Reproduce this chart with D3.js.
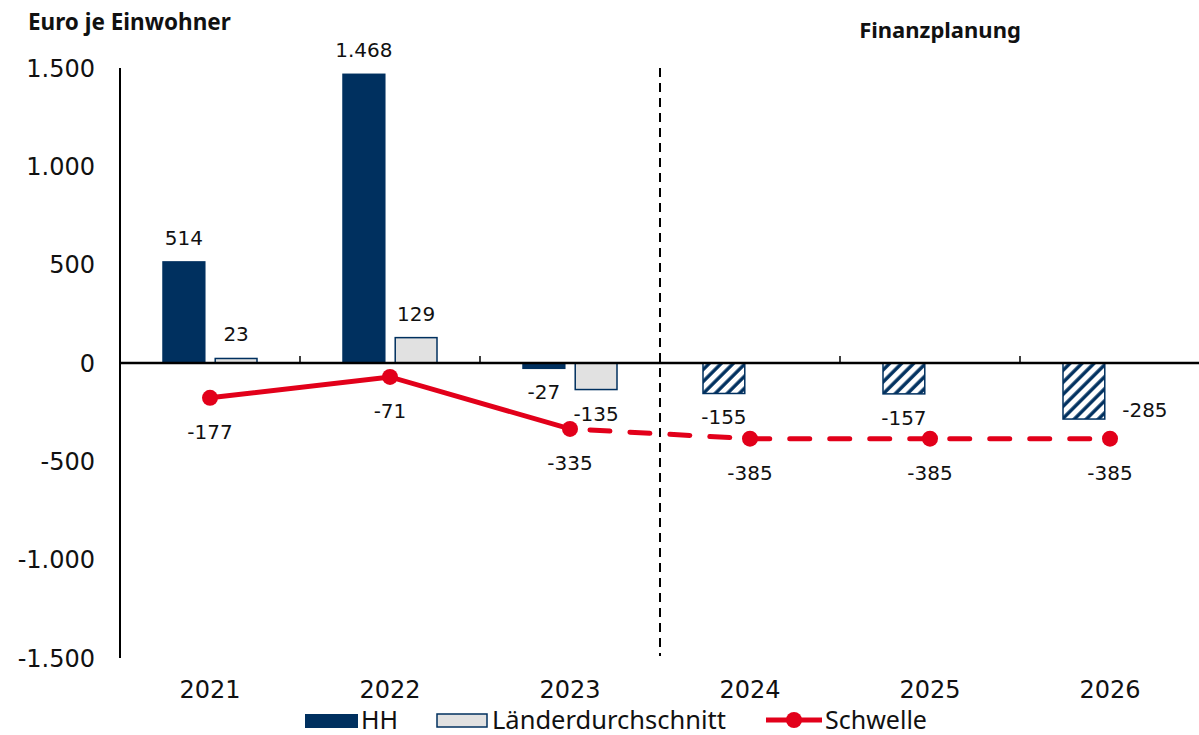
<!DOCTYPE html>
<html lang="de">
<head>
<meta charset="utf-8">
<title>Euro je Einwohner</title>
<script src="https://cdn.jsdelivr.net/npm/d3@7"></script>
<style>
  body { margin: 0; background: #fff; }
  svg text { font-family: "Noto Sans", sans-serif; fill: #111; }
  svg text.num { font-family: "DejaVu Sans", sans-serif; }
</style>
</head>
<body>
<svg id="chart" width="1199" height="735"></svg>
<script>
// data
var years = ["2021", "2022", "2023", "2024", "2025", "2026"];
var hh = [514, 1468, -27, -155, -157, -285];
var laender = [23, 129, -135, null, null, null];
var schwelle = [-177, -71, -335, -385, -385, -385];
var planStart = 3; // ab 2024 Finanzplanung
var yTicks = [-1500, -1000, -500, 0, 500, 1000, 1500];

var navy = "#00305f", red = "#e2001a", grey = "#e1e1e1";
var fmt = d3.formatLocale({decimal: ",", thousands: ".", grouping: [3], currency: ["", "€"], minus: "-"}).format(",d");

var svg = d3.select("#chart");

var x = d3.scaleBand().domain(years).range([120, 1200]);
var x1 = d3.scaleBand().domain(["hh", "ld"]).range([43, 137]).paddingInner(0.2);
var y = d3.scaleLinear().domain([-1500, 1500]).range([658, 68]);

// hatch pattern
var defs = svg.append("defs");
var pat = defs.append("pattern").attr("id", "hatch")
    .attr("patternUnits", "userSpaceOnUse")
    .attr("width", 8.5).attr("height", 8.5)
    .attr("patternTransform", "rotate(45)");
pat.append("rect").attr("width", 8.5).attr("height", 8.5).attr("fill", "#fff");
pat.append("line").attr("x1", 2).attr("x2", 2).attr("y1", 0).attr("y2", 8.5)
    .attr("stroke", navy).attr("stroke-width", 3.4);

// titles
svg.append("text").attr("x", 28).attr("y", 30)
    .style("font-size", "22.5px").style("font-weight", "bold").text("Euro je Einwohner");
svg.append("text").attr("x", 940).attr("y", 38).attr("text-anchor", "middle")
    .style("font-size", "22px").style("font-weight", "bold").text("Finanzplanung");

// y axis labels
svg.append("g").selectAll("text").data(yTicks).enter().append("text")
    .attr("class", "num")
    .attr("x", 95).attr("y", function(d) { return y(d); })
    .attr("dy", "0.36em").attr("text-anchor", "end")
    .style("font-size", "24px")
    .text(function(d) { return fmt(d); });

svg.append("line").attr("x1", 120).attr("x2", 120).attr("y1", y(1500)).attr("y2", y(-1500))
    .attr("stroke", "#000").attr("stroke-width", 2);

// bars
var bars = svg.append("g");
years.forEach(function(yr, i) {
    var v = hh[i];
    bars.append("rect")
        .attr("x", x(yr) + x1("hh")).attr("width", x1.bandwidth())
        .attr("y", y(Math.max(0, v))).attr("height", Math.abs(y(v) - y(0)))
        .attr("fill", i >= planStart ? "url(#hatch)" : navy)
        .attr("stroke", navy).attr("stroke-width", 1.5);
    if (laender[i] != null) {
        var l = laender[i];
        bars.append("rect")
            .attr("x", x(yr) + x1("ld")).attr("width", x1.bandwidth())
            .attr("y", y(Math.max(0, l))).attr("height", Math.abs(y(l) - y(0)))
            .attr("fill", grey).attr("stroke", navy).attr("stroke-width", 1.5);
    }
});

// bar labels
var lab = svg.append("g").style("font-size", "20px").attr("text-anchor", "middle");
years.forEach(function(yr, i) {
    var v = hh[i], cx = x(yr) + x1("hh") + x1.bandwidth() / 2;
    var t = lab.append("text").attr("class", "num").text(fmt(v));
    if (i === years.length - 1) {
        // letzter Wert rechts neben dem Balken
        t.attr("x", cx + 61).attr("y", y(v) - 2);
    } else {
        t.attr("x", cx).attr("y", v >= 0 ? y(v) - 17 : y(v) + 31);
    }
    if (laender[i] != null) {
        var l = laender[i], lx = x(yr) + x1("ld") + x1.bandwidth() / 2;
        lab.append("text").attr("class", "num")
            .attr("x", lx).attr("y", l >= 0 ? y(l) - 17 : y(l) + 31).text(fmt(l));
    }
});

// x axis
svg.append("line").attr("x1", 120).attr("x2", 1199).attr("y1", y(0)).attr("y2", y(0))
    .attr("stroke", "#000").attr("stroke-width", 2.5);
svg.append("g").selectAll("line").data(years.slice(1)).enter().append("line")
    .attr("x1", function(d) { return x(d); }).attr("x2", function(d) { return x(d); })
    .attr("y1", y(0) - 7).attr("y2", y(0)).attr("stroke", "#000").attr("stroke-width", 1.5);
svg.append("g").selectAll("text").data(years).enter().append("text")
    .attr("class", "num")
    .attr("x", function(d) { return x(d) + x.bandwidth() / 2; }).attr("y", 698)
    .attr("text-anchor", "middle").style("font-size", "24px")
    .text(function(d) { return d; });

// Trennlinie Finanzplanung
svg.append("line").attr("x1", x(years[planStart])).attr("x2", x(years[planStart]))
    .attr("y1", 68).attr("y2", 656)
    .attr("stroke", "#000").attr("stroke-width", 2).attr("stroke-dasharray", "9,6");

// Schwelle line
var pts = years.map(function(yr, i) { return [x(yr) + x.bandwidth() / 2, y(schwelle[i])]; });
var line = d3.line();
svg.append("path").attr("d", line(pts.slice(0, planStart)))
    .attr("fill", "none").attr("stroke", red).attr("stroke-width", 5);
svg.append("path").attr("d", line(pts.slice(planStart - 1)))
    .attr("fill", "none").attr("stroke", red).attr("stroke-width", 5)
    .attr("stroke-dasharray", "20,20").attr("stroke-dashoffset", -20).attr("stroke-linecap", "round");
svg.append("g").selectAll("circle").data(pts).enter().append("circle")
    .attr("cx", function(d) { return d[0]; }).attr("cy", function(d) { return d[1]; })
    .attr("r", 8).attr("fill", red);
svg.append("g").selectAll("text").data(pts).enter().append("text")
    .attr("class", "num")
    .attr("x", function(d) { return d[0]; }).attr("y", function(d) { return d[1] + 41; })
    .attr("text-anchor", "middle").style("font-size", "20px")
    .text(function(d, i) { return fmt(schwelle[i]); });

// legend
var lg = svg.append("g").style("font-size", "25px");
lg.append("rect").attr("x", 305).attr("y", 714).attr("width", 53).attr("height", 14).attr("fill", navy);
lg.append("text").attr("x", 361).attr("y", 729).text("HH");
lg.append("rect").attr("x", 437).attr("y", 714).attr("width", 50).attr("height", 13)
    .attr("fill", grey).attr("stroke", navy).attr("stroke-width", 1.5);
lg.append("text").attr("x", 492).attr("y", 729).style("font-size", "25.5px").text("Länderdurchschnitt");
lg.append("line").attr("x1", 766).attr("x2", 822).attr("y1", 720).attr("y2", 720)
    .attr("stroke", red).attr("stroke-width", 5);
lg.append("circle").attr("cx", 794).attr("cy", 720).attr("r", 8).attr("fill", red);
lg.append("text").attr("x", 825).attr("y", 729).text("Schwelle");
</script>
</body>
</html>
